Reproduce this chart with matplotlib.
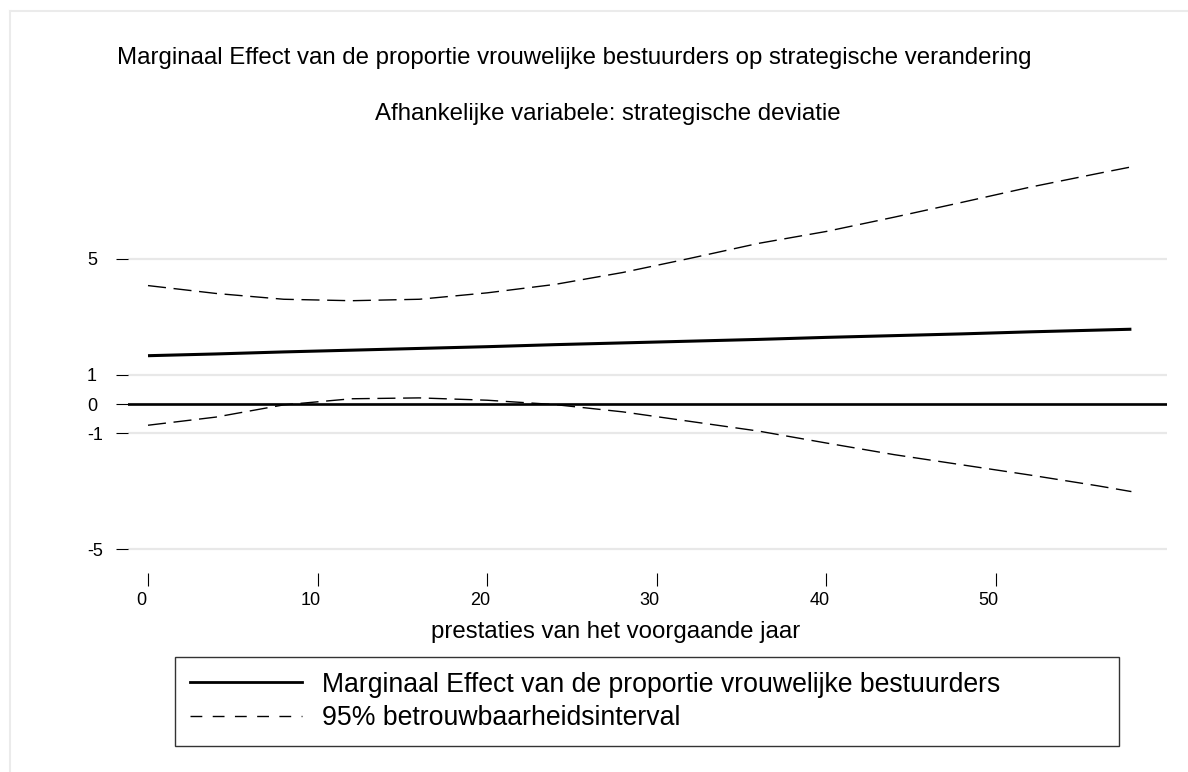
import matplotlib
matplotlib.use("Agg")
import matplotlib.pyplot as plt
from matplotlib.lines import Line2D
import matplotlib.transforms as mtransforms

plt.rcParams['font.family'] = ['Liberation Sans', 'DejaVu Sans']

# Data
x_vals = [0, 4, 8, 12, 16, 20, 24, 28, 32, 36, 40, 44, 48, 52, 56, 58]
effect = [1.66, 1.72, 1.79, 1.85, 1.91, 1.97, 2.04, 2.10, 2.16, 2.22, 2.29, 2.35, 2.41, 2.48, 2.54, 2.57]
upper = [4.07, 3.80, 3.60, 3.55, 3.60, 3.82, 4.11, 4.52, 5.01, 5.52, 5.93, 6.42, 6.93, 7.45, 7.92, 8.15]
lower = [-0.73, -0.45, -0.03, 0.18, 0.21, 0.13, -0.02, -0.27, -0.60, -0.93, -1.34, -1.74, -2.09, -2.44, -2.81, -3.01]

x_ticks = [0, 10, 20, 30, 40, 50]
y_ticks = [-5, -1, 0, 1, 5]

title = "Marginaal Effect van de proportie vrouwelijke bestuurders op strategische verandering"
subtitle = "Afhankelijke variabele: strategische deviatie"
xlabel = "prestaties van het voorgaande jaar"
legend_labels = ["Marginaal Effect van de proportie vrouwelijke bestuurders",
                 "95% betrouwbaarheidsinterval"]

W, H = 1188, 772
fig = plt.figure(figsize=(W / 100, H / 100), dpi=100)
fig.patch.set_facecolor('white')

def fx(px):
    return px / W

def fy(py):
    return 1 - py / H

ax = fig.add_axes([fx(128), fy(555.3), fx(1167 - 128), (555.3 - 159.6) / H])
ax.set_xlim(-1.18, 60.1)
ax.set_ylim(-5.2, 8.4)

ax.set_yticks(y_ticks)
ax.set_yticklabels([str(v) for v in y_ticks])
ax.set_xticks(x_ticks)
ax.set_xticklabels([str(v) for v in x_ticks])

ax.yaxis.grid(True, color='#e8e8e8', linewidth=1.6)
ax.set_axisbelow(True)
ax.axhline(0, color='black', linewidth=1.9, zorder=2)

ax.plot(x_vals, effect, color='black', linewidth=2.2, solid_capstyle='butt', zorder=3)
l_up, = ax.plot(x_vals, upper, color='black', linewidth=1.0, zorder=3)
l_lo, = ax.plot(x_vals, lower, color='black', linewidth=1.0, zorder=3)
for ln in (l_up, l_lo):
    ln.set_dashes((13, 5.5))

for s in ax.spines.values():
    s.set_visible(False)
ax.spines['bottom'].set_position(('outward', 13))

ax.tick_params(axis='y', length=8.6, width=0.8, color='black', pad=21, labelsize=13)
for lab in ax.get_yticklabels():
    lab.set_horizontalalignment('left')
ax.tick_params(axis='x', length=9.2, width=0.8, color='black', pad=4, labelsize=13)
offset = mtransforms.ScaledTranslation(-7 / 100, 0, fig.dpi_scale_trans)
for lab in ax.get_xticklabels():
    lab.set_transform(lab.get_transform() + offset)

fig.text(fx(117), fy(58), title, ha='left', va='center', fontsize=17.3)
fig.text(fx(608), fy(114), subtitle, ha='center', va='center', fontsize=17.3)
fig.text(fx(616), fy(632), xlabel, ha='center', va='center', fontsize=17.3)

# Legend
h1 = Line2D([], [], color='black', linewidth=2.0)
h2 = Line2D([], [], color='black', linewidth=1.0, dashes=(8.5, 7.5))
leg = fig.legend([h1, h2], legend_labels, loc='upper left',
                 bbox_to_anchor=(fx(175), fy(745), fx(1119 - 175), (745 - 657) / H),
                 mode='expand', frameon=True, fancybox=False, edgecolor='black',
                 fontsize=19.2, handlelength=4.2, handletextpad=0.75,
                 borderpad=0.55, labelspacing=0.27, borderaxespad=0)
leg.get_frame().set_linewidth(1.0)

# Light outer frame (top and left)
fig.add_artist(Line2D([fx(10), 1], [fy(11), fy(11)], color='#ebebeb', linewidth=1.5,
                      transform=fig.transFigure))
fig.add_artist(Line2D([fx(10), fx(10)], [fy(11), 0], color='#ebebeb', linewidth=1.5,
                      transform=fig.transFigure))

fig.savefig("out.png", dpi=100, facecolor='white')
